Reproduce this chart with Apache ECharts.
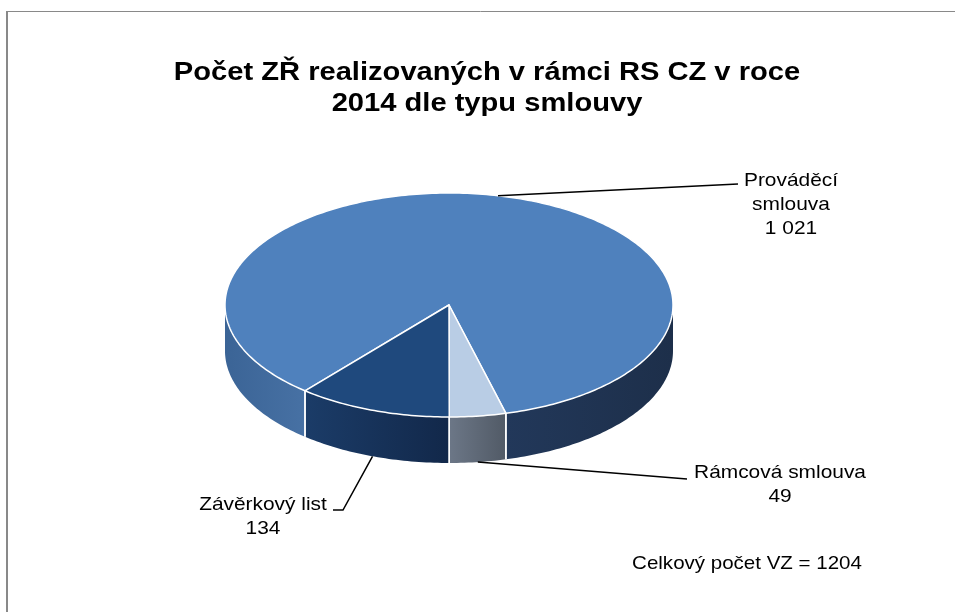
<!DOCTYPE html>
<html>
<head>
<meta charset="utf-8">
<script src="https://cdn.jsdelivr.net/npm/echarts@6/dist/echarts.min.js"></script>
<style>
html, body { margin: 0; padding: 0; background: #fff; }
#chart { width: 955px; height: 612px; }
</style>
</head>
<body>
<div id="chart"></div>
<script>
// data (Excel order, clockwise from the first slice angle)
var categories = ['Prováděcí smlouva', 'Rámcová smlouva', 'Závěrkový list'];
var labelTexts = ['Prováděcí\nsmlouva', 'Rámcová smlouva', 'Závěrkový list'];
var values = [1021, 49, 134];
var titleText = 'Počet ZŘ realizovaných v rámci RS CZ v roce\n2014 dle typu smlouvy';
var totalLabel = 'Celkový počet VZ = ';

// look
var topColors = ['#4f81bd', '#b9cde5', '#1f497d'];
var wallColors = [
    { L: ['#3b6496', '#4771a4'], R: ['#22385a', '#1d2f4a'] },
    { R: ['#6c7787', '#515a66'] },
    { L: ['#1b3c68', '#12284a'] }
];
var FONT = '"Liberation Sans", Arial, sans-serif';

// pie geometry
var CX = 449, CY = 305, RX = 224, RY = 112, DEPTH = 46;
var FIRST_ANGLE = 220; // degrees, clockwise from 12 o'clock

// label layout
var labelPos = [[791, 205], [780, 485], [263, 517]];
var leaderEnds = [[[738, 184]], [[687, 479]], [[343, 510], [333, 510]]];

var total = values.reduce(function (s, v) { return s + v; }, 0);
var starts = [];
var acc = FIRST_ANGLE;
for (var i = 0; i < values.length; i++) {
    starts.push(acc);
    acc += values[i] / total * 360;
}

function fmt(v) {
    return String(v).replace(/\B(?=(\d{3})+(?!\d))/g, ' ');
}

function pt(t, dy) {
    var r = t * Math.PI / 180;
    return [CX + RX * Math.sin(r), CY - RY * Math.cos(r) + (dy || 0)];
}

function arc(a, b, dy) {
    var n = Math.max(2, Math.ceil(Math.abs(b - a)));
    var pts = [];
    for (var k = 0; k <= n; k++) {
        pts.push(pt(a + (b - a) * k / n, dy));
    }
    return pts;
}

function renderItem(params, api) {
    var i = params.dataIndex;
    var v = api.value(1);
    var a0 = starts[i];
    var a1 = a0 + v / total * 360;
    var children = [];

    // top face
    children.push({
        type: 'polygon',
        z2: 10,
        shape: { points: [[CX, CY]].concat(arc(a0, a1, 0)) },
        style: { fill: topColors[i], stroke: '#fff', lineWidth: 1.5, lineJoin: 'round' }
    });

    // front walls
    var windows = [[90, 270], [450, 630]];
    windows.forEach(function (w) {
        var lo = Math.max(a0, w[0]), hi = Math.min(a1, w[1]);
        if (hi <= lo) return;
        var xr = pt(lo)[0], xl = pt(hi)[0];
        var side = (xl + xr) / 2 < CX ? 'L' : 'R';
        var c = wallColors[i][side];
        children.push({
            type: 'polygon',
            z2: 1,
            shape: { points: arc(lo, hi, 0).concat(arc(hi, lo, DEPTH)) },
            style: {
                fill: {
                    type: 'linear', x: xl, y: 0, x2: xr, y2: 0, global: true,
                    colorStops: [{ offset: 0, color: c[0] }, { offset: 1, color: c[1] }]
                }
            }
        });
        [lo, hi].forEach(function (t) {
            if (t === w[0] || t === w[1]) return;
            var p = pt(t);
            children.push({
                type: 'line',
                z2: 2,
                shape: { x1: p[0], y1: p[1], x2: p[0], y2: p[1] + DEPTH },
                style: { stroke: '#fff', lineWidth: 1.5 }
            });
        });
    });

    // leader line
    var mid = ((a0 + a1) / 2) % 360;
    var front = mid > 90 && mid < 270;
    var start = pt(mid, front ? DEPTH : 0);
    children.push({
        type: 'polyline',
        z2: 20,
        shape: { points: [start].concat(leaderEnds[i]) },
        style: { stroke: '#000', lineWidth: 1.5, fill: null }
    });

    // label
    children.push({
        type: 'text',
        z2: 20,
        x: labelPos[i][0],
        y: labelPos[i][1],
        scaleX: 1.1,
        style: {
            text: labelTexts[i] + '\n' + fmt(v),
            fill: '#000',
            fontFamily: FONT,
            fontSize: 19,
            lineHeight: 24,
            align: 'center',
            verticalAlign: 'middle'
        }
    });

    return { type: 'group', children: children };
}

var chart = echarts.init(document.getElementById('chart'));

var option = {
    backgroundColor: '#fff',
    animation: false,
    graphic: [
        { type: 'line', shape: { x1: 7, y1: 11, x2: 7, y2: 612 }, style: { stroke: '#898989', lineWidth: 2 } },
        { type: 'line', shape: { x1: 6, y1: 11.5, x2: 955, y2: 11.5 }, style: { stroke: '#898989', lineWidth: 1 } },
        {
            type: 'text', x: 487, y: 88, scaleX: 1.12,
            style: {
                text: titleText, fill: '#000', fontFamily: FONT, fontWeight: 'bold',
                fontSize: 26, lineHeight: 31, align: 'center', verticalAlign: 'middle'
            }
        },
        {
            type: 'text', x: 747, y: 564, scaleX: 1.08,
            style: {
                text: totalLabel + total, fill: '#000', fontFamily: FONT,
                fontSize: 19, align: 'center', verticalAlign: 'middle'
            }
        }
    ],
    series: [{
        type: 'custom',
        coordinateSystem: 'none',
        silent: true,
        renderItem: renderItem,
        data: values.map(function (v, i) { return { name: categories[i], value: [i, v] }; })
    }]
};

chart.setOption(option);
</script>
</body>
</html>
